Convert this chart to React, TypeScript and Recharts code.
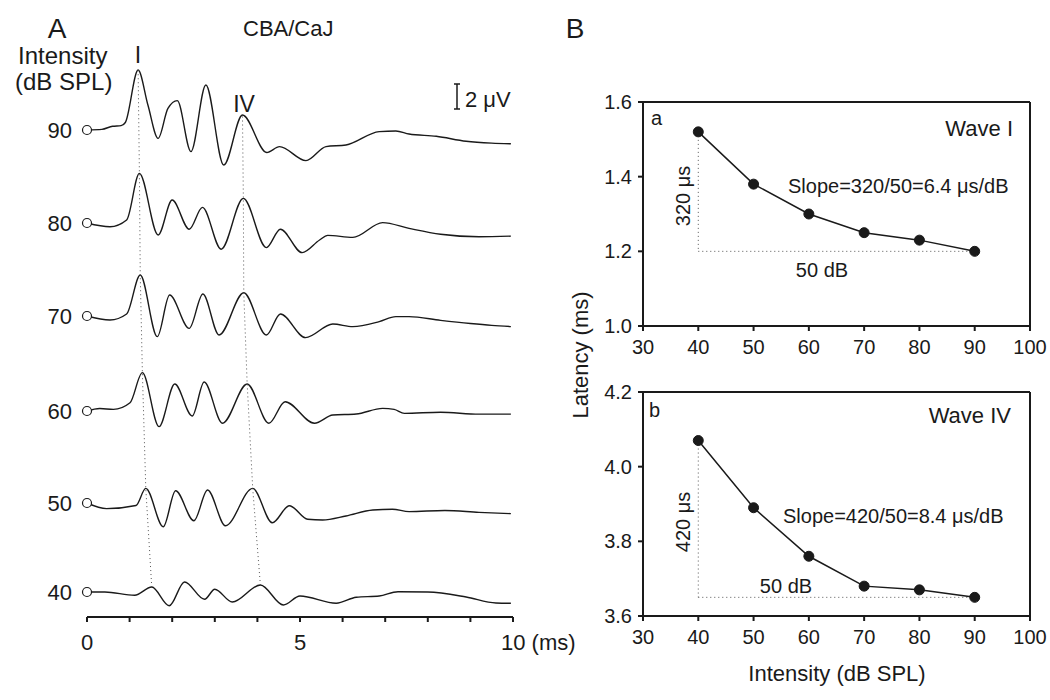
import React from 'react';
import { ComposedChart, LineChart, Line, Scatter, XAxis, YAxis, ReferenceLine } from 'recharts';

const FONT = 'Arial, "Liberation Sans", Helvetica, sans-serif';
const INK = '#1a1a1a';

// panel B: peak latencies (ms) by stimulus level (dB SPL)
const intensities = [40, 50, 60, 70, 80, 90];
const waveILatency = [1.52, 1.38, 1.3, 1.25, 1.23, 1.2];
const waveIVLatency = [4.07, 3.89, 3.76, 3.68, 3.67, 3.65];

// panel A: ABR traces, time (ms) / amplitude (µV)
const abrTime90 = [0, 0.35, 0.6, 0.8, 0.9, 1.2, 1.43, 1.67, 1.9, 2.12, 2.44, 2.79, 3.21, 3.65, 4.22, 4.52, 5.14, 5.61, 6.08, 6.86, 7.25, 7.56, 8.2, 8.9, 9.5, 9.95];
const abrAmp90 = [0, 0.05, 0.3, 0.35, 0.6, 4.8, 2.0, -0.67, 1.73, 2.35, -1.73, 3.6, -2.8, 1.2, -1.8, -1.33, -2.45, -1.33, -1.2, -0.13, -0.08, -0.32, -0.5, -0.9, -1.05, -1.1];

const abrTime80 = [0, 0.54, 0.93, 1.23, 1.67, 2.0, 2.4, 2.71, 3.15, 3.67, 4.21, 4.54, 5.05, 5.46, 5.65, 6.24, 6.94, 7.56, 8.3, 9.2, 9.95];
const abrAmp80 = [0, -0.3, 0.24, 3.97, -0.96, 1.84, -0.5, 1.25, -2.1, 1.97, -1.97, -0.5, -2.37, -1.36, -0.99, -1.15, 0.03, -0.43, -0.9, -1.1, -1.05];

const abrTime70 = [0, 0.54, 0.93, 1.25, 1.65, 1.94, 2.4, 2.72, 3.1, 3.68, 4.21, 4.54, 5.13, 5.77, 6.24, 6.86, 7.25, 7.56, 8.3, 9.0, 9.5, 9.95];
const abrAmp70 = [0, -0.32, 0.16, 3.28, -1.65, 1.68, -0.99, 1.76, -1.52, 1.86, -1.52, 0.16, -1.73, -0.64, -0.85, -0.45, -0.05, -0.05, -0.35, -0.6, -0.75, -0.85];

const abrTime60 = [0, 0.3, 0.62, 1.01, 1.3, 1.69, 2.06, 2.47, 2.75, 3.18, 3.76, 4.27, 4.65, 5.34, 5.77, 6.32, 6.94, 7.21, 7.45, 8.3, 9.2, 9.95];
const abrAmp60 = [0, 0.2, 0.13, 0.66, 3.07, -1.25, 2.16, -0.4, 2.32, -0.98, 2.16, -0.98, 0.74, -0.98, -0.32, -0.24, 0.21, 0.13, -0.19, -0.1, -0.25, -0.25];

const abrTime50 = [0, 0.46, 1.15, 1.38, 1.79, 2.08, 2.51, 2.83, 3.25, 3.89, 4.35, 4.75, 5.18, 5.53, 6.08, 6.71, 7.17, 7.56, 8.4, 9.2, 9.95];
const abrAmp50 = [0, -0.45, -0.2, 1.17, -1.9, 0.98, -1.42, 1.04, -1.82, 1.17, -1.58, -0.22, -1.3, -1.36, -1.04, -0.56, -0.5, -0.69, -0.6, -0.75, -0.85];

const abrTime40 = [0, 0.42, 1.12, 1.52, 1.93, 2.29, 2.76, 3.0, 3.41, 4.07, 4.61, 5.0, 5.85, 6.32, 6.86, 7.3, 8.0, 8.9, 9.6, 9.95];
const abrAmp40 = [0, 0, -0.26, 0.4, -1.1, 0.8, -0.58, 0.22, -0.8, 0.56, -1.04, -0.32, -0.9, -0.42, -0.32, 0.02, 0, -0.4, -0.88, -0.9];

const traces = [
  { db: 90, time: abrTime90, amp: abrAmp90 },
  { db: 80, time: abrTime80, amp: abrAmp80 },
  { db: 70, time: abrTime70, amp: abrAmp70 },
  { db: 60, time: abrTime60, amp: abrAmp60 },
  { db: 50, time: abrTime50, amp: abrAmp50 },
  { db: 40, time: abrTime40, amp: abrAmp40 },
];

// where each trace sits in panel A, in µV above the time axis
const rowBase: Record<number, number> = { 90: 38.96, 80: 31.52, 70: 24.08, 60: 16.48, 50: 9.12, 40: 2.0 };

const traceRows = traces.map((tr) => ({
  db: tr.db,
  points: tr.time.map((t, i) => ({ t, y: rowBase[tr.db] + tr.amp[i] })),
}));

function peakAt(db: number, t: number) {
  const row = traceRows.find((r) => r.db === db)!;
  let best = row.points[0];
  row.points.forEach((p) => {
    if (Math.abs(p.t - t) < Math.abs(best.t - t)) best = p;
  });
  return best;
}

const peakLineI = intensities.map((db, i) => peakAt(db, waveILatency[i]));
const peakLineIV = intensities.map((db, i) => peakAt(db, waveIVLatency[i]));
const startMarks = intensities.map((db) => ({ t: 0, y: rowBase[db] }));

const msTicks = [0, 1, 2, 3, 4, 5, 6, 7, 8, 9, 10];

function MsTick(props: any) {
  const { x, y, payload } = props;
  const v = payload.value;
  if (v % 5 !== 0) return <g />;
  const last = v === 10;
  return (
    <text x={last ? x - 12 : x} y={y} dy="0.71em" textAnchor={last ? 'start' : 'middle'}
      fontSize={22} fontFamily={FONT} fill={INK}>
      {last ? '10 (ms)' : v}
    </text>
  );
}

function OpenCircle(props: any) {
  return <circle cx={props.cx} cy={props.cy} r={4.5} fill="#fff" stroke={INK} strokeWidth={1.2} />;
}

function PanelA() {
  return (
    <div style={{ position: 'absolute', left: 0, top: 0 }}>
      <ComposedChart width={600} height={700} margin={{ top: 42, right: 87, bottom: 53, left: 0 }}>
        <XAxis dataKey="t" type="number" domain={[0, 10]} ticks={msTicks} interval={0}
          height={30} tickSize={5} tickMargin={12} stroke={INK} strokeWidth={2} tick={<MsTick />} />
        <YAxis dataKey="y" type="number" domain={[0, 46]} width={87}
          ticks={intensities.map((db) => rowBase[db])} interval={0}
          tickFormatter={(v: number) => String(intensities.find((db) => rowBase[db] === v))}
          axisLine={false} tickLine={false} tickSize={0} tickMargin={15}
          tick={{ fontSize: 22, fontFamily: FONT, fill: INK }} />
        {traceRows.map((r) => (
          <Line key={r.db} data={r.points} dataKey="y" type="monotone" stroke={INK}
            strokeWidth={1.4} dot={false} isAnimationActive={false} />
        ))}
        <Line data={peakLineI} dataKey="y" type="linear" stroke="#555" strokeWidth={1}
          strokeDasharray="1 3" dot={false} isAnimationActive={false} />
        <Line data={peakLineIV} dataKey="y" type="linear" stroke="#555" strokeWidth={1}
          strokeDasharray="1 3" dot={false} isAnimationActive={false} />
        <Scatter data={startMarks} dataKey="y" shape={<OpenCircle />} isAnimationActive={false} />
      </ComposedChart>
    </div>
  );
}

const dbTicks = [30, 40, 50, 60, 70, 80, 90, 100];

function LatencyPanel({ lat, domain, ticks, top, height, marginBottom }: any) {
  const data = intensities.map((db, i) => ({ db, lat: lat[i] }));
  const hi = lat[0];
  const lo = Math.min(...lat);
  const x0 = intensities[0];
  const x1 = intensities[intensities.length - 1];
  return (
    <div style={{ position: 'absolute', left: 560, top }}>
      <LineChart width={490} height={height} data={data}
        margin={{ top: 42, right: 20, bottom: marginBottom, left: 23 }}>
        <XAxis dataKey="db" type="number" domain={[30, 100]} ticks={dbTicks} interval={0}
          height={30} tickSize={5} tickMargin={9} stroke={INK} strokeWidth={2}
          tick={{ fontSize: 20, fontFamily: FONT, fill: INK }} />
        <YAxis type="number" domain={domain} ticks={ticks} interval={0} width={60}
          tickFormatter={(v: number) => v.toFixed(1)} tickSize={5} tickMargin={6}
          stroke={INK} strokeWidth={2} tick={{ fontSize: 20, fontFamily: FONT, fill: INK }} />
        <ReferenceLine y={domain[1]} stroke={INK} strokeWidth={2} />
        <ReferenceLine x={100} stroke={INK} strokeWidth={2} />
        <ReferenceLine segment={[{ x: x0, y: hi }, { x: x0, y: lo }]} stroke="#555"
          strokeWidth={1} strokeDasharray="1 3" />
        <ReferenceLine segment={[{ x: x0, y: lo }, { x: x1, y: lo }]} stroke="#555"
          strokeWidth={1} strokeDasharray="1 3" />
        <Line dataKey="lat" type="linear" stroke={INK} strokeWidth={1.5}
          dot={{ r: 5, fill: INK, stroke: INK, strokeWidth: 1 }} isAnimationActive={false} />
      </LineChart>
    </div>
  );
}

function shift(lat: number[]) {
  return Math.round((lat[0] - Math.min(...lat)) * 1000);
}

export default function App() {
  const span = intensities[intensities.length - 1] - intensities[0];
  const dI = shift(waveILatency);
  const dIV = shift(waveIVLatency);
  const txt = { fontFamily: FONT, fill: INK };
  return (
    <div style={{ position: 'absolute', left: 0, top: 0, width: 1050, height: 700, background: '#fff' }}>
      <PanelA />
      <LatencyPanel lat={waveILatency} domain={[1.0, 1.6]} ticks={[1.0, 1.2, 1.4, 1.6]}
        top={60} height={300} marginBottom={4} />
      <LatencyPanel lat={waveIVLatency} domain={[3.6, 4.2]} ticks={[3.6, 3.8, 4.0, 4.2]}
        top={350} height={350} marginBottom={54} />
      <svg width={1050} height={700} style={{ position: 'absolute', left: 0, top: 0, pointerEvents: 'none' }}>
        <g {...txt}>
          <text x={57} y={38} fontSize={28} textAnchor="middle">A</text>
          <text x={243} y={36} fontSize={22}>CBA/CaJ</text>
          <text x={18} y={64} fontSize={24}>Intensity</text>
          <text x={15} y={90} fontSize={24}>(dB SPL)</text>
          <text x={138} y={63} fontSize={23} textAnchor="middle">I</text>
          <text x={244} y={112} fontSize={23} textAnchor="middle">IV</text>
          <text x={465} y={107} fontSize={22}>2 μV</text>
          <text x={575} y={38} fontSize={28} textAnchor="middle">B</text>
          <text transform="translate(588,355) rotate(-90)" fontSize={22} textAnchor="middle">Latency (ms)</text>
          <text x={837} y={681} fontSize={22} textAnchor="middle">Intensity (dB SPL)</text>

          <text x={651} y={125} fontSize={20}>a</text>
          <text x={1013} y={136} fontSize={22} textAnchor="end">Wave I</text>
          <text x={788} y={193} fontSize={20}>{`Slope=${dI}/${span}=${(dI / span).toFixed(1)} μs/dB`}</text>
          <text transform="translate(690,196) rotate(-90)" fontSize={20} textAnchor="middle">{`${dI} μs`}</text>
          <text x={822} y={277} fontSize={20} textAnchor="middle">{`${span} dB`}</text>

          <text x={649} y={417} fontSize={20}>b</text>
          <text x={1011} y={423} fontSize={22} textAnchor="end">Wave IV</text>
          <text x={783} y={523} fontSize={20}>{`Slope=${dIV}/${span}=${(dIV / span).toFixed(1)} μs/dB`}</text>
          <text transform="translate(690,522) rotate(-90)" fontSize={20} textAnchor="middle">{`${dIV} μs`}</text>
          <text x={786} y={593} fontSize={20} textAnchor="middle">{`${span} dB`}</text>
        </g>
        <g stroke={INK} strokeWidth={1.5}>
          <line x1={457} y1={84} x2={457} y2={109} />
          <line x1={454} y1={84} x2={460} y2={84} />
          <line x1={454} y1={109} x2={460} y2={109} />
        </g>
      </svg>
    </div>
  );
}
